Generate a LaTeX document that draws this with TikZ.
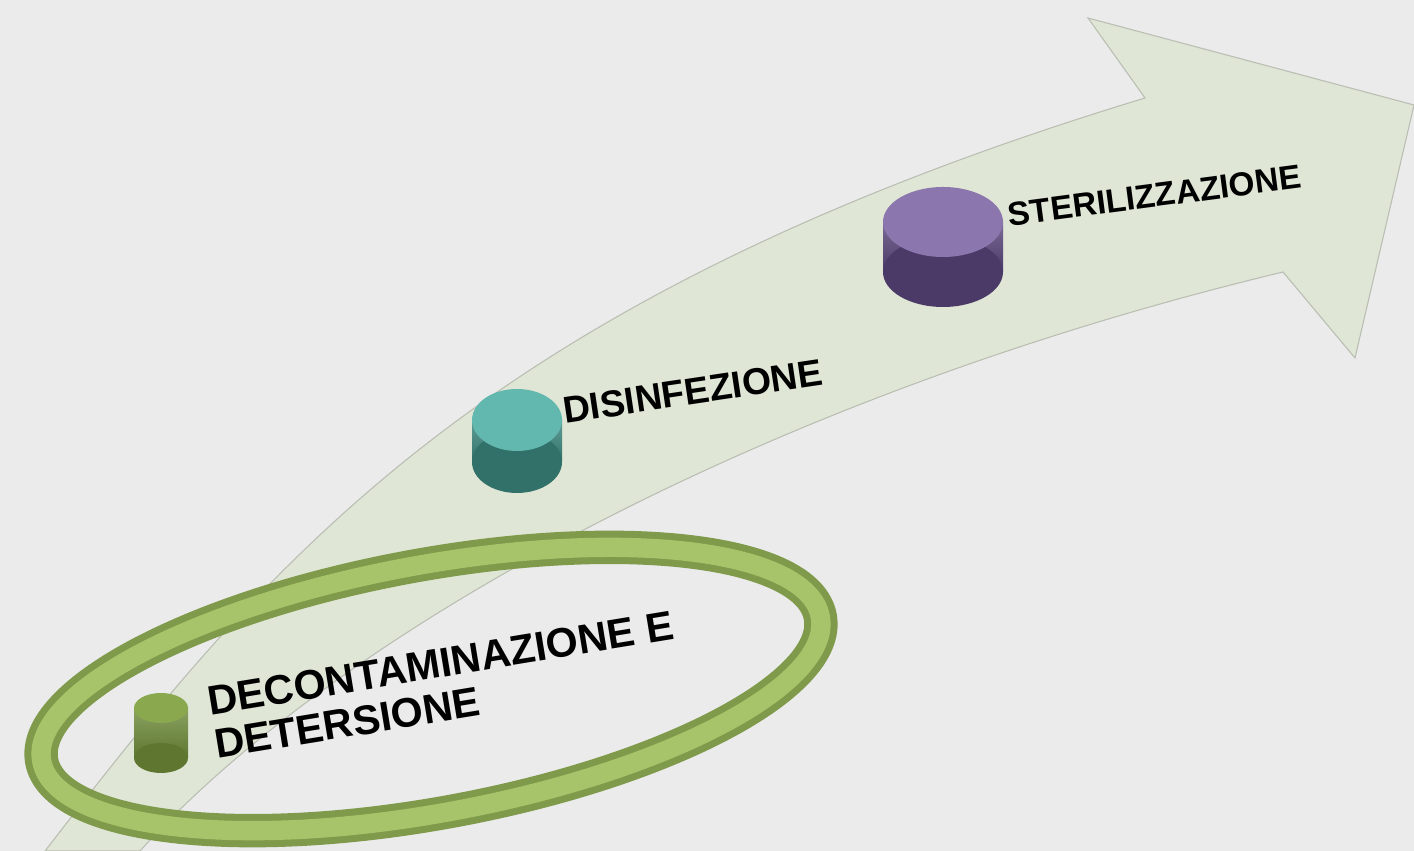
\documentclass[tikz,border=0pt]{standalone}
\usepackage{fontspec}
\setmainfont{Liberation Sans}
\definecolor{bgc}{HTML}{EBEBEB}
\definecolor{arrowc}{HTML}{DFE6D5}
\definecolor{arrowline}{HTML}{B9BEB3}
\definecolor{ringdark}{HTML}{7F9A4A}
\definecolor{ringlight}{HTML}{A8C46A}
\definecolor{gtop}{HTML}{8AA94E}
\definecolor{gside}{HTML}{6E8B39}
\definecolor{ttop}{HTML}{62B8AE}
\definecolor{tside}{HTML}{3A857D}
\definecolor{ptop}{HTML}{8C76AE}
\definecolor{pside}{HTML}{584479}
\tikzset{
  arrowbody/.style={fill=arrowc, draw=arrowline, line width=0.6pt},
  steplabel/.style={font=\bfseries, text=black, inner sep=0pt, anchor=west, align=left},
}
% cylinder: name, cx, ytop, ybot, rx, ry, topcolor, sidecolor
\newcommand{\mycyl}[8]{%
  \coordinate (#1) at (#2,{(#3+#4)/2});
  \shade[top color=#8!80!white, bottom color=#8!85!black]
    (#2-#5,#3) rectangle (#2+#5,#4);
  \fill[#8!85!black] (#2,#4) ellipse[x radius=#5*0.02cm, y radius=#6*0.02cm];
  \fill[#7] (#2,#3) ellipse[x radius=#5*0.02cm, y radius=#6*0.02cm];
}
\begin{document}
\begin{tikzpicture}[x=0.02cm, y=0.02cm]
\useasboundingbox (0,0) rectangle (1414,851);
\fill[bgc] (0,0) rectangle (1414,851);
% curved arrow
\path[arrowbody] (45,0) .. controls (270,291) and (480,551) .. (1145,753)
  -- (1088,833) -- (1414,746) -- (1355,493) -- (1283,579)
  .. controls (750,451) and (330,211) .. (140,0) -- cycle;
% ring
\draw[ringdark, line width=19pt] (431,162) ellipse[x radius=7.92cm, y radius=2.48cm, rotate=10.5];
\draw[ringlight, line width=11pt] (431,162) ellipse[x radius=7.92cm, y radius=2.48cm, rotate=10.5];
% cylinders
\mycyl{cylA}{161}{143}{93}{27}{15}{gtop}{gside}
\mycyl{cylB}{517}{431}{389}{45}{31}{ttop}{tside}
\mycyl{cylC}{943}{629}{579}{60}{35}{ptop}{pside}
% labels
\node[steplabel, rotate=9.3, font=\fontsize{23.5}{25}\selectfont\bfseries] (labA) at (211,128) {DECONTAMINAZIONE E\\DETERSIONE};
\node[steplabel, rotate=8.5, font=\fontsize{21.3}{24}\selectfont\bfseries] (labB) at (563,440) {DISINFEZIONE};
\node[steplabel, rotate=7.5, font=\fontsize{19}{22}\selectfont\bfseries] (labC) at (1008,636) {STERILIZZAZIONE};
\end{tikzpicture}
\end{document}
